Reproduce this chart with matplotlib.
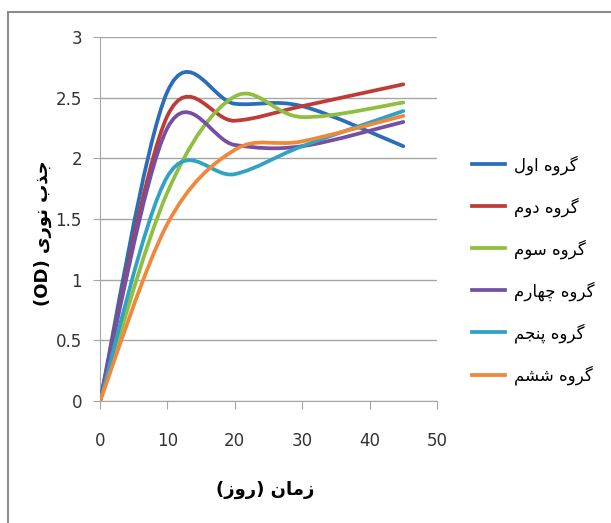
import matplotlib
matplotlib.use('Agg')
import matplotlib.pyplot as plt
from matplotlib.path import Path
from matplotlib.patches import PathPatch, Rectangle
from matplotlib.lines import Line2D

# roz (days)
days = [0, 10, 20, 30, 45]

group1 = [0, 2.55, 2.45, 2.43, 2.10]
group2 = [0, 2.35, 2.31, 2.43, 2.61]
group3 = [0, 1.72, 2.51, 2.34, 2.46]
group4 = [0, 2.25, 2.11, 2.10, 2.30]
group5 = [0, 1.85, 1.87, 2.10, 2.39]
group6 = [0, 1.46, 2.07, 2.14, 2.35]

labels = ['گروه اول', 'گروه دوم', 'گروه سوم', 'گروه چهارم', 'گروه پنجم', 'گروه ششم']
colors = ['#2a6ebb', '#be3b36', '#8fbf3f', '#7350a3', '#2fa3c4', '#f0883a']
series = [group1, group2, group3, group4, group5, group6]

xlabel = 'زمان (روز)'
ylabel = 'جذب نوری (OD)'

# --- minimal arabic/persian shaping (matplotlib has no bidi) ---
# char: (isolated, final, initial, medial)
FORMS = {
    'ا': ('\uFE8D', '\uFE8E', None, None),
    'ب': ('\uFE8F', '\uFE90', '\uFE91', '\uFE92'),
    'پ': ('\uFB56', '\uFB57', '\uFB58', '\uFB59'),
    'ج': ('\uFE9D', '\uFE9E', '\uFE9F', '\uFEA0'),
    'چ': ('\uFB7A', '\uFB7B', '\uFB7C', '\uFB7D'),
    'د': ('\uFEA9', '\uFEAA', None, None),
    'ذ': ('\uFEAB', '\uFEAC', None, None),
    'ر': ('\uFEAD', '\uFEAE', None, None),
    'ز': ('\uFEAF', '\uFEB0', None, None),
    'س': ('\uFEB1', '\uFEB2', '\uFEB3', '\uFEB4'),
    'ش': ('\uFEB5', '\uFEB6', '\uFEB7', '\uFEB8'),
    'ل': ('\uFEDD', '\uFEDE', '\uFEDF', '\uFEE0'),
    'م': ('\uFEE1', '\uFEE2', '\uFEE3', '\uFEE4'),
    'ن': ('\uFEE5', '\uFEE6', '\uFEE7', '\uFEE8'),
    'ه': ('\uFEE9', '\uFEEA', '\uFEEB', '\uFEEC'),
    'و': ('\uFEED', '\uFEEE', None, None),
    'ی': ('\uFBFC', '\uFBFD', '\uFBFE', '\uFBFF'),
    'گ': ('\uFB92', '\uFB93', '\uFB94', '\uFB95'),
}
MIRROR = {'(': ')', ')': '('}


def shape_word(w):
    out = []
    for i, c in enumerate(w):
        if c not in FORMS:
            out.append(c)
            continue
        prv = w[i - 1] if i > 0 else None
        nxt = w[i + 1] if i + 1 < len(w) else None
        pj = prv in FORMS and FORMS[prv][2] is not None
        nj = nxt in FORMS and FORMS[c][2] is not None
        iso, fin, ini, med = FORMS[c]
        if pj and nj:
            out.append(med)
        elif pj:
            out.append(fin)
        elif nj:
            out.append(ini)
        else:
            out.append(iso)
    return out


def rtl(s):
    # right-to-left paragraph: reverse words, reverse arabic runs, keep latin runs
    words = s.split(' ')
    vis = []
    for w in reversed(words):
        if any(c in FORMS for c in w):
            vis.append(''.join(MIRROR.get(c, c) for c in reversed(shape_word(w))))
        else:
            vis.append(w)
    return ' '.join(vis)


def smooth_path(xs, ys):
    # excel style smoothed line as cubic bezier (catmull-rom, 1/6)
    pts = list(zip(xs, ys))
    verts = [pts[0]]
    codes = [Path.MOVETO]
    n = len(pts)
    for i in range(n - 1):
        p0 = pts[i - 1] if i > 0 else pts[i]
        p1 = pts[i]
        p2 = pts[i + 1]
        p3 = pts[i + 2] if i + 2 < n else pts[i + 1]
        c1 = (p1[0] + (p2[0] - p0[0]) / 6, p1[1] + (p2[1] - p0[1]) / 6)
        c2 = (p2[0] - (p3[0] - p1[0]) / 6, p2[1] - (p3[1] - p1[1]) / 6)
        verts += [c1, c2, p2]
        codes += [Path.CURVE4] * 3
    return Path(verts, codes)


plt.rcParams['font.family'] = ['DejaVu Sans']

fig = plt.figure(figsize=(6.11, 5.23), dpi=100)
ax = fig.add_axes([100 / 611, 122 / 523, 337 / 611, 364 / 523])

for ys, c in zip(series, colors):
    ax.add_patch(PathPatch(smooth_path(days, ys), facecolor='none', edgecolor=c,
                           lw=2.7, capstyle='round', joinstyle='round', zorder=3))

ax.set_xlim(0, 50)
ax.set_ylim(0, 3)
ax.set_xticks([0, 10, 20, 30, 40, 50])
ax.set_yticks([0, 0.5, 1, 1.5, 2, 2.5, 3])
ax.set_yticklabels(['0', '0.5', '1', '1.5', '2', '2.5', '3'])
ax.grid(axis='y', color='#a6a6a6', lw=1)
ax.set_axisbelow(True)
for s in ['top', 'right']:
    ax.spines[s].set_visible(False)
for s in ['left', 'bottom']:
    ax.spines[s].set_color('#a6a6a6')
ax.tick_params(axis='x', direction='out', length=6, color='#a6a6a6', pad=16,
               labelsize=12, labelcolor='#333333')
ax.tick_params(axis='y', direction='out', length=5, color='#a6a6a6', pad=8,
               labelsize=12, labelcolor='#333333')

fig.text(265 / 611, 1 - 490 / 523, rtl(xlabel), ha='center', va='center',
         fontsize=13, fontweight='bold')
fig.text(43 / 611, 1 - 233 / 523, rtl(ylabel), ha='center', va='center',
         rotation=90, fontsize=13, fontweight='bold')

handles = [Line2D([], [], color=c, lw=2.7) for c in colors]
fig.legend(handles, [rtl(l) for l in labels], loc='center left',
           bbox_to_anchor=(457 / 611, 1 - 270 / 523), frameon=False,
           fontsize=12, handlelength=2.0, handletextpad=0.5, labelspacing=1.35)

fig.add_artist(Rectangle((8 / 611, -0.1), 1.2, 0.1 + (523 - 12) / 523,
                         transform=fig.transFigure, fill=False,
                         edgecolor='#8c8c8c', lw=1.5))

fig.savefig('out.png', dpi=100)
